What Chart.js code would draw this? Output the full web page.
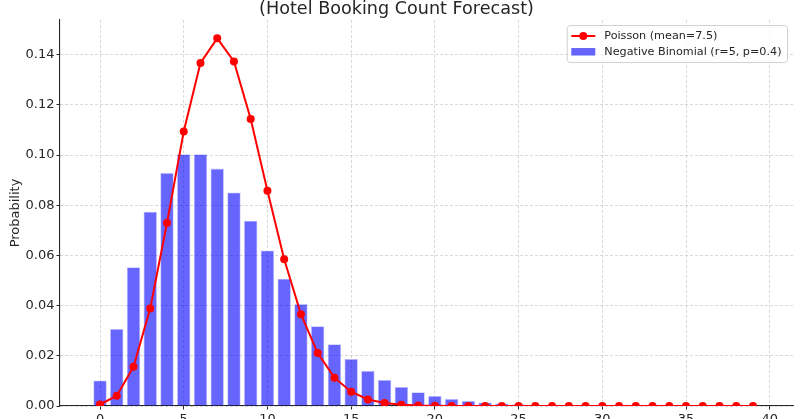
<!DOCTYPE html>
<html>
<head>
<meta charset="utf-8">
<script src="https://cdn.jsdelivr.net/npm/chart.js@4/dist/chart.umd.min.js"></script>
<style>
  html, body { margin: 0; padding: 0; background: #ffffff; }
  #wrap { width: 800px; height: 419px; position: relative; }
</style>
</head>
<body>
<div id="wrap"><canvas id="chart" width="800" height="419"></canvas></div>
<script>
// Booking counts per day (k = 0 … 39)
const counts = [0,1,2,3,4,5,6,7,8,9,10,11,12,13,14,15,16,17,18,19,
                20,21,22,23,24,25,26,27,28,29,30,31,32,33,34,35,36,37,38,39];

// Poisson model, mean 7.5
const poissonProb = [0.0006,0.0041,0.0156,0.0389,0.0729,0.1094,0.1367,0.1465,0.1373,0.1144,
                     0.0858,0.0585,0.0366,0.0211,0.0113,0.0057,0.0026,0.0012,0.0005,0.0002,
                     0.0001,0,0,0,0,0,0,0,0,0,
                     0,0,0,0,0,0,0,0,0,0];

// Negative binomial model, r = 5, p = 0.4
const negBinomProb = [0.0102,0.0307,0.0553,0.0774,0.0929,0.1003,0.1003,0.0946,0.0851,0.0738,
                      0.0620,0.0507,0.0406,0.0318,0.0246,0.0187,0.0140,0.0104,0.0076,0.0055,
                      0.0040,0.0028,0.0020,0.0014,0.0010,0.0007,0.0005,0.0003,0.0002,0.0002,
                      0.0001,0.0001,0.0001,0,0,0,0,0,0,0];

const xTicks = [0,5,10,15,20,25,30,35,40];
const yTicks = [0,0.02,0.04,0.06,0.08,0.10,0.12,0.14];

const seriesNames = ['Poisson (mean=7.5)', 'Negative Binomial (r=5, p=0.4)'];
const chartTitle = '(Hotel Booking Count Forecast)';
const yTitle = 'Probability';

const FONT = "'DejaVu Sans', sans-serif";
const INK = '#262626';
const RED = '#ff0000';
const BLUE_A = 'rgba(0,0,255,0.6)';
const GRID = 'rgba(190,190,190,0.75)';

// Legend box in the upper-right corner of the plot area
const innerLegend = {
  id: 'innerLegend',
  afterDraw(chart) {
    const ctx = chart.ctx;
    const area = chart.chartArea;
    const fs = 11.2;
    ctx.save();
    ctx.font = fs + 'px ' + FONT;
    const textW = Math.max(...seriesNames.map(s => ctx.measureText(s).width));
    const handleW = 24, gap = 9, padX = 4, rowH = 16;
    const boxW = padX + handleW + gap + textW + 6;
    const boxH = 37;
    const right = area.right - 5.5;
    const left = right - boxW;
    const top = area.top + 5.5;

    ctx.beginPath();
    ctx.roundRect(left, top, boxW, boxH, 3);
    ctx.fillStyle = 'rgba(255,255,255,0.8)';
    ctx.fill();
    ctx.strokeStyle = 'rgba(204,204,204,0.9)';
    ctx.lineWidth = 1;
    ctx.stroke();

    const hx = left + padX;
    const row1 = top + 10.5;
    const row2 = row1 + rowH;

    // line + marker handle
    ctx.strokeStyle = RED;
    ctx.lineWidth = 2;
    ctx.beginPath();
    ctx.moveTo(hx, row1);
    ctx.lineTo(hx + handleW, row1);
    ctx.stroke();
    ctx.fillStyle = RED;
    ctx.beginPath();
    ctx.arc(hx + handleW / 2, row1, 4, 0, Math.PI * 2);
    ctx.fill();

    // bar patch
    ctx.fillStyle = BLUE_A;
    ctx.fillRect(hx, row2 - 4, handleW, 7.5);

    ctx.fillStyle = INK;
    ctx.textBaseline = 'middle';
    ctx.textAlign = 'left';
    ctx.fillText(seriesNames[0], hx + handleW + gap, row1 + 0.5);
    ctx.fillText(seriesNames[1], hx + handleW + gap, row2 + 0.5);
    ctx.restore();
  }
};

new Chart(document.getElementById('chart'), {
  type: 'bar',
  data: {
    labels: counts,
    datasets: [
      {
        type: 'line',
        label: seriesNames[0],
        data: poissonProb,
        borderColor: RED,
        backgroundColor: RED,
        borderWidth: 2,
        pointRadius: 4,
        pointBackgroundColor: RED,
        pointBorderColor: RED,
        pointBorderWidth: 0,
        tension: 0,
        order: 0
      },
      {
        type: 'bar',
        label: seriesNames[1],
        data: negBinomProb,
        backgroundColor: BLUE_A,
        borderColor: 'rgba(150,150,255,0.6)',
        borderWidth: 0.8,
        categoryPercentage: 1,
        barPercentage: 0.8,
        order: 1
      }
    ]
  },
  options: {
    responsive: false,
    animation: false,
    devicePixelRatio: 1,
    layout: { padding: { left: 0, right: 7, top: 0, bottom: 0 } },
    plugins: {
      legend: { display: false },
      tooltip: { enabled: false },
      title: {
        display: true,
        text: chartTitle,
        color: INK,
        font: { family: FONT, size: 17.6, weight: 'normal', lineHeight: 1.2 },
        padding: { top: -1.5, bottom: 0.4 }
      }
    },
    scales: {
      x: {
        type: 'linear',
        offset: false,
        min: -2.39,
        max: 41.39,
        afterBuildTicks: s => { s.ticks = xTicks.map(v => ({ value: v })); },
        afterFit: s => { s.height = 13; },
        ticks: {
          color: INK,
          font: { family: FONT, size: 13 },
          padding: 2,
          maxRotation: 0,
          autoSkip: false,
          callback: v => String(v)
        },
        grid: {
          offset: false,
          color: GRID,
          lineWidth: 0.8,
          drawTicks: true,
          tickLength: 3.5,
          tickColor: INK,
          tickWidth: 1,
          tickBorderDash: []
        },
        border: { display: true, color: INK, width: 1.1, dash: [3, 2] }
      },
      y: {
        type: 'linear',
        min: 0,
        max: 0.1538,
        afterBuildTicks: s => { s.ticks = yTicks.map(v => ({ value: v })); },
        afterFit: s => { s.width = 60; },
        ticks: {
          color: INK,
          font: { family: FONT, size: 13 },
          padding: 2,
          autoSkip: false,
          callback: v => v.toFixed(2)
        },
        grid: {
          color: GRID,
          lineWidth: 0.8,
          drawTicks: true,
          tickLength: 3.5,
          tickColor: INK,
          tickWidth: 1,
          tickBorderDash: []
        },
        border: { display: true, color: INK, width: 1.1, dash: [3, 2] },
        title: {
          display: true,
          text: yTitle,
          color: INK,
          font: { family: FONT, size: 13 },
          padding: { top: 8, bottom: 0 }
        }
      }
    }
  },
  plugins: [innerLegend]
});
</script>
</body>
</html>
